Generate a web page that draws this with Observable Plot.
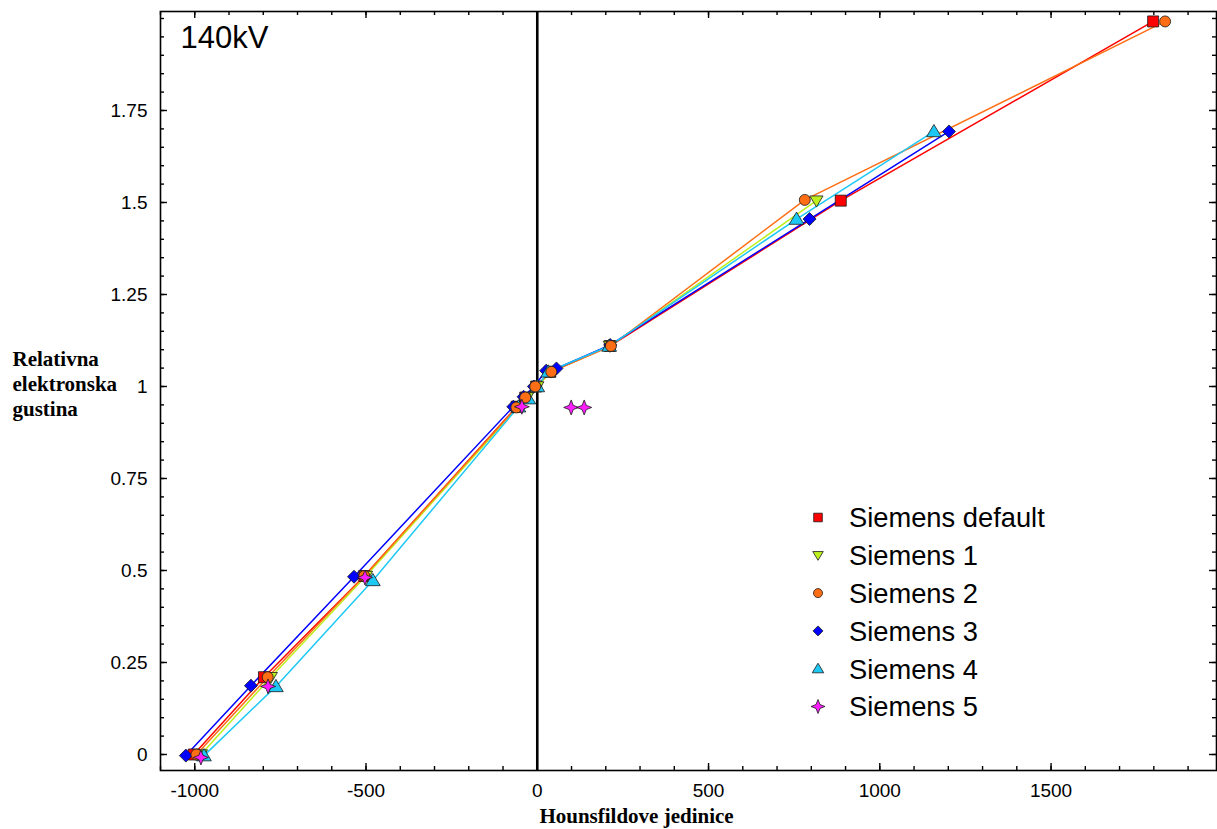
<!DOCTYPE html>
<html>
<head>
<meta charset="utf-8">
<script src="https://cdn.jsdelivr.net/npm/d3@7"></script>
<script src="https://cdn.jsdelivr.net/npm/@observablehq/plot@0.6"></script>
<style>
html,body{margin:0;padding:0;background:#fff;}
#wrap{position:relative;width:1217px;height:829px;}
#legend{position:absolute;left:0;top:0;}
</style>
</head>
<body>
<div id="wrap"></div>
<script>
// ---- data ----
const seriesNames = ["Siemens default", "Siemens 1", "Siemens 2", "Siemens 3", "Siemens 4", "Siemens 5"];
const seriesColors = ["#ff0000", "#bef01e", "#ff6e14", "#0000ff", "#1ec8f5", "#ff1eff"];

const huDefault = [-1003, -798, -505, -60, -35, -3, 38, 212, 886, 1798];
const edDefault = [0.000, 0.210, 0.485, 0.945, 0.970, 1.000, 1.040, 1.110, 1.505, 1.992];

const huS1 = [-982, -778, -500, -55, -30, 0, 40, 212, 815];
const edS1 = [0.000, 0.210, 0.485, 0.945, 0.970, 1.000, 1.040, 1.110, 1.505];

const huS2 = [-995, -787, -505, -61, -35, -6, 41, 215, 781, 1833];
const edS2 = [0.000, 0.210, 0.485, 0.943, 0.970, 1.000, 1.040, 1.110, 1.507, 1.992];

const huS3 = [-1026, -836, -535, -70, -40, -10, 26, 56, 213, 795, 1202];
const edS3 = [-0.003, 0.187, 0.483, 0.945, 0.972, 1.000, 1.043, 1.049, 1.113, 1.455, 1.693];

const huS4 = [-973, -763, -480, -55, -26, 0, 32, 210, 757, 1158];
const edS4 = [-0.003, 0.185, 0.473, 0.945, 0.967, 1.000, 1.040, 1.110, 1.455, 1.693];

const huS5 = [-982, -786, -503, -45, 99, 137];
const edS5 = [-0.008, 0.185, 0.481, 0.945, 0.943, 0.943];

const xTickValues = [-1000, -500, 0, 500, 1000, 1500];
const yTickValues = [0, 0.25, 0.5, 0.75, 1, 1.25, 1.5, 1.75];
const panelLabel = "140kV";
const xTitle = "Hounsfildove jedinice";
const yTitle = "Relativna\nelektronska\ngustina";

// ---- build ----
const huAll = [huDefault, huS1, huS2, huS3, huS4, huS5];
const edAll = [edDefault, edS1, edS2, edS3, edS4, edS5];
const rows = [];
seriesNames.forEach((s, i) => huAll[i].forEach((h, j) => rows.push({series: s, hu: h, ed: edAll[i][j]})));

// custom symbols (size = r*r*PI)
const rad = size => Math.sqrt(size / Math.PI);
const symSquare = {draw(c, size){const h = rad(size); c.moveTo(-h,-h); c.lineTo(h,-h); c.lineTo(h,h); c.lineTo(-h,h); c.closePath();}};
const symTriDown = {draw(c, size){const h = rad(size); c.moveTo(0,h); c.lineTo(h*1.05,-h*0.75); c.lineTo(-h*1.05,-h*0.75); c.closePath();}};
const symCircle = {draw(c, size){const h = rad(size); c.moveTo(h,0); c.arc(0,0,h,0,2*Math.PI); c.closePath();}};
const symDiamond = {draw(c, size){const h = rad(size); c.moveTo(0,-h); c.lineTo(h,0); c.lineTo(0,h); c.lineTo(-h,0); c.closePath();}};
const symTriUp = {draw(c, size){const h = rad(size); c.moveTo(0,-h); c.lineTo(h*1.05,h*0.75); c.lineTo(-h*1.05,h*0.75); c.closePath();}};
const symStar4 = {draw(c, size){const h = rad(size); const k = h*0.28;
  c.moveTo(0,-h); c.lineTo(k,-k); c.lineTo(h,0); c.lineTo(k,k); c.lineTo(0,h); c.lineTo(-k,k); c.lineTo(-h,0); c.lineTo(-k,-k); c.closePath();}};
const symbols = [symSquare, symTriDown, symCircle, symDiamond, symTriUp, symStar4];
const plotR = [5.5, 6.3, 5.5, 6.5, 7, 7.5];
const legendR = [4.3, 5, 4.5, 5, 5.5, 7];

const serif = "Liberation Serif, Times New Roman, serif";
const lineSeries = seriesNames.slice(0, 5);
const drawOrder = [0, 1, 3, 4, 2, 5];

// layout
const W = 1217, H = 829, mL = 160, mT = 11, mR = 1, mB = 59;
const xDom = [-1100, 1983], yDom = [-0.0435, 2.019];
const kx = (xDom[1] - xDom[0]) / (W - mL - mR);   // data units per px
const ky = (yDom[1] - yDom[0]) / (H - mT - mB);

const xMinor = d3.range(-1100, 1983, 100);
const yMinor = d3.range(0, 2.02, 0.05);

const tickStyle = {stroke: "black", strokeWidth: 1.4};
function xTicks(vals, len) {
  return [
    Plot.ruleX(vals, {x: d => d, y1: () => yDom[0], y2: () => yDom[0] + len * ky, ...tickStyle}),
    Plot.ruleX(vals, {x: d => d, y1: () => yDom[1], y2: () => yDom[1] - len * ky, ...tickStyle})
  ];
}
function yTicks(vals, len) {
  return [
    Plot.ruleY(vals, {y: d => d, x1: () => xDom[0], x2: () => xDom[0] + len * kx, ...tickStyle}),
    Plot.ruleY(vals, {y: d => d, x1: () => xDom[1], x2: () => xDom[1] - len * kx, ...tickStyle})
  ];
}

const plot = Plot.plot({
  width: W, height: H,
  marginLeft: mL, marginTop: mT, marginRight: mR, marginBottom: mB,
  x: {domain: xDom},
  y: {domain: yDom},
  color: {domain: seriesNames, range: seriesColors},
  style: {fontFamily: "Liberation Sans, Arial, sans-serif", background: "white", color: "black"},
  marks: [
    ...xTicks(xMinor, 4), ...xTicks(xTickValues, 7),
    ...yTicks(yMinor, 4), ...yTicks(yTickValues, 7),
    Plot.axisX({anchor: "bottom", ticks: xTickValues, tickSize: 0, tickPadding: 13, fontSize: 19, tickFormat: d => String(d), label: null}),
    Plot.axisY({anchor: "left", ticks: yTickValues, tickSize: 0, tickPadding: 13, fontSize: 19, tickFormat: d => String(d), label: null}),
    Plot.ruleX([0], {stroke: "black", strokeWidth: 2.6}),
    Plot.frame({stroke: "black", strokeWidth: 1.6}),
    Plot.line(rows.filter(d => lineSeries.includes(d.series)), {x: "hu", y: "ed", z: "series", stroke: "series", strokeWidth: 1.5}),
    ...drawOrder.map(i => Plot.dot(rows.filter(d => d.series === seriesNames[i]), {
      x: "hu", y: "ed", symbol: symbols[i], r: plotR[i], fill: seriesColors[i], stroke: "#1a1a1a", strokeWidth: 0.8
    })),
    Plot.text([panelLabel], {text: d => d, frameAnchor: "top-left", dx: 20, dy: 14, textAnchor: "start", lineAnchor: "top", fontSize: 31}),
    Plot.text([xTitle], {text: d => d, frameAnchor: "bottom", dx: -52, dy: 46, lineAnchor: "middle", fontSize: 21, fontWeight: "bold", fontFamily: serif}),
    Plot.text([yTitle], {text: d => d, frameAnchor: "left", dx: -148, dy: -8, textAnchor: "start", lineAnchor: "middle", lineHeight: 1.19, fontSize: 21, fontWeight: "bold", fontFamily: serif})
  ]
});
const wrap = document.getElementById("wrap");
wrap.appendChild(plot);

// legend
const lg = d3.select(wrap).append("svg").attr("id", "legend").attr("width", W).attr("height", H)
  .style("font-family", "Liberation Sans, Arial, sans-serif");
seriesNames.forEach((s, i) => {
  const cy = 517.5 + i * 37.8;
  lg.append("path")
    .attr("d", d3.symbol(symbols[i], legendR[i] * legendR[i] * Math.PI)())
    .attr("transform", `translate(818,${cy})`)
    .attr("fill", seriesColors[i]).attr("stroke", "#1a1a1a").attr("stroke-width", 0.8);
  lg.append("text").attr("x", 849).attr("y", cy + 9.8).attr("font-size", 27.3).attr("fill", "black").text(s);
});
</script>
</body>
</html>
